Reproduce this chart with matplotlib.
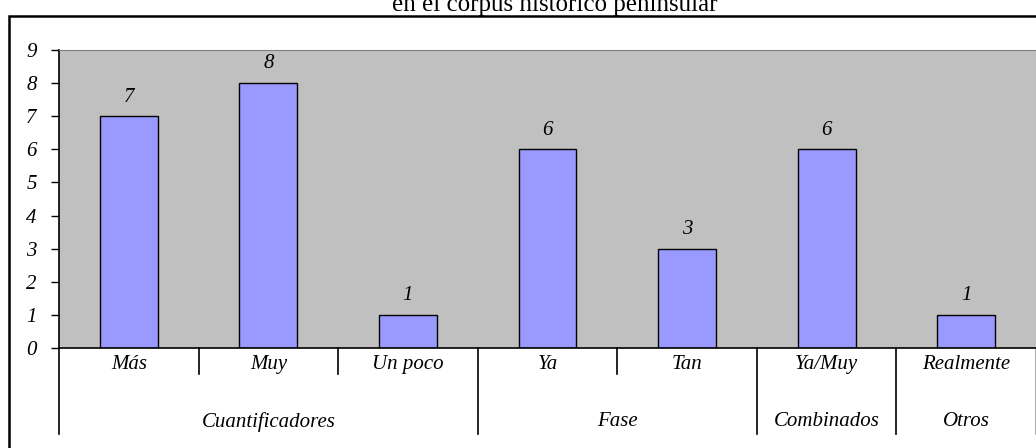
import matplotlib.pyplot as plt
from matplotlib.patches import Rectangle

plt.rcParams['font.family'] = ['Liberation Serif', 'DejaVu Serif']

# datos de la grafica
categorias = ['Más', 'Muy', 'Un poco', 'Ya', 'Tan', 'Ya/Muy', 'Realmente']
valores = [7, 8, 1, 6, 3, 6, 1]
grupos = ['Cuantificadores', 'Fase', 'Combinados', 'Otros']
tam_grupos = [3, 2, 1, 1]
titulo = 'en el corpus histórico peninsular'

fs = 15

fig = plt.figure(figsize=(10.36, 4.48), dpi=100)
ax = fig.add_axes([59 / 1036, 1 - 348 / 448, 977 / 1036, 298 / 448])

x = list(range(len(categorias)))
ax.bar(x, valores, width=0.415, color='#9999FF', edgecolor='black', linewidth=1)
ax.set_facecolor('#C0C0C0')
ax.set_xlim(-0.5, len(categorias) - 0.5)
ax.set_ylim(0, 9)

# etiquetas de valor encima de cada barra
for xi, v in zip(x, valores):
    ax.annotate(str(v), (xi, v), xytext=(0, 7), textcoords='offset points',
                ha='center', va='bottom', fontsize=fs, style='italic')

ax.set_yticks(range(0, 10))
ax.set_yticklabels([str(i) for i in range(0, 10)], fontsize=fs, style='italic')
ax.tick_params(axis='y', direction='out', length=6, width=1, pad=10)
ax.set_xticks([])

ax.spines['top'].set_color('#808080')
ax.spines['right'].set_color('#A0A0A0')
ax.spines['left'].set_linewidth(1.2)
ax.spines['bottom'].set_linewidth(1.2)

# eje de categorias en dos niveles
trans = ax.get_xaxis_transform()
limites_grupo = [0]
for n in tam_grupos:
    limites_grupo.append(limites_grupo[-1] + n)
for i in range(len(categorias) + 1):
    bajo = -0.289 if i in limites_grupo else -0.087
    color = '#A0A0A0' if i == len(categorias) else 'black'
    ax.plot([i - 0.5, i - 0.5], [0, bajo], transform=trans, color=color,
            linewidth=1.2, clip_on=False)

for xi, nombre in zip(x, categorias):
    ax.text(xi, -0.057, nombre, transform=trans, ha='center', va='center',
            fontsize=fs, style='italic')

for g, nombre in enumerate(grupos):
    centro = (limites_grupo[g] + limites_grupo[g + 1]) / 2 - 0.5
    ax.text(centro, -0.248, nombre, transform=trans, ha='center', va='center',
            fontsize=fs, style='italic')

# marco exterior y titulo (el titulo queda recortado por arriba)
fig.patches.append(Rectangle((9 / 1036, -0.1), 1.2, 1 - 16 / 448 + 0.1,
                             transform=fig.transFigure, fill=False,
                             edgecolor='black', linewidth=1.8))
fig.text(555 / 1036, 1 - 11 / 448, titulo, ha='center', va='baseline', fontsize=18)

fig.savefig('out.png', dpi=100)
